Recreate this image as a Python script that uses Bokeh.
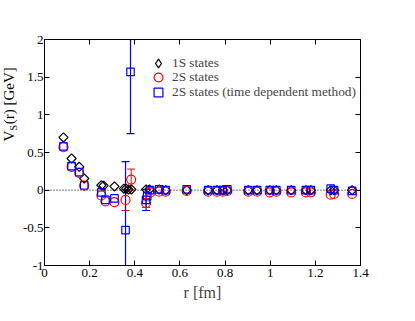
import numpy as np
from bokeh.plotting import figure
from bokeh.layouts import row
from bokeh.models import (FixedTicker, LinearAxis, Span, Label, ColumnDataSource,
                          CustomJSTickFormatter, Legend, LegendItem, Range1d)
from bokeh.embed import file_html
from bokeh.resources import INLINE

# ---------------- data ----------------
r_1s = [0.084, 0.12, 0.154, 0.176, 0.252, 0.262, 0.31, 0.352, 0.362, 0.372, 0.385,
        0.45, 0.465, 0.508, 0.537, 0.63, 0.725, 0.764, 0.79, 0.81, 0.903, 0.942,
        0.998, 1.027, 1.093, 1.158, 1.18, 1.268, 1.283, 1.363]
v_1s = [0.70, 0.42, 0.31, 0.155, 0.065, 0.06, 0.05, 0.02, 0.02, 0.01, 0.01,
        0.01, 0.01, 0.01, 0.0, 0.0, 0.0, 0.0, 0.0, 0.0, 0.0, 0.0,
        0.0, 0.0, 0.0, 0.0, 0.0, 0.0, 0.0, 0.0]

r_2s = [0.084, 0.12, 0.154, 0.176, 0.252, 0.27, 0.31, 0.359, 0.384, 0.45, 0.47,
        0.508, 0.537, 0.63, 0.725, 0.764, 0.79, 0.81, 0.903, 0.942, 0.998, 1.027,
        1.093, 1.158, 1.18, 1.268, 1.283, 1.363]
v_2s = [0.57, 0.31, 0.23, 0.06, -0.07, -0.15, -0.16, -0.13, 0.14, -0.17, -0.03,
        -0.02, -0.02, -0.01, -0.02, -0.02, -0.02, -0.01, -0.02, -0.02, -0.03, -0.02,
        -0.03, -0.03, -0.03, -0.06, -0.05, -0.05]
r_2s_err = [0.359, 0.384, 0.45]
lo_2s_err = [-0.27, 0.0, -0.23]
hi_2s_err = [0.01, 0.28, -0.11]

r_td = [0.084, 0.12, 0.154, 0.176, 0.252, 0.27, 0.31, 0.359, 0.381, 0.45, 0.455,
        0.467, 0.508, 0.537, 0.63, 0.725, 0.764, 0.79, 0.81, 0.903, 0.942, 0.998,
        1.027, 1.093, 1.158, 1.18, 1.268, 1.283, 1.363]
v_td = [0.58, 0.32, 0.24, 0.065, -0.03, -0.13, -0.11, -0.53, 1.57, -0.13, -0.08,
        0.0, 0.01, 0.0, 0.01, 0.0, 0.0, 0.0, 0.01, 0.0, 0.0, 0.0,
        0.0, 0.0, 0.0, 0.0, 0.02, 0.0, -0.01]
r_td_err = [0.359, 0.381, 0.45]
lo_td_err = [-1.44, 0.75, -0.27]
hi_td_err = [0.38, 2.39, 0.01]

x_ticks = [0, 0.2, 0.4, 0.6, 0.8, 1.0, 1.2, 1.4]
y_ticks = [-1, -0.5, 0, 0.5, 1, 1.5, 2]
legend_labels = ["1S states", "2S states", "2S states (time dependent method)"]

FONT = "Liberation Serif"
LABEL_W = 19

p = figure(width=399 - LABEL_W, height=305, output_backend="svg", toolbar_location=None,
           x_range=Range1d(0, 1.4), y_range=Range1d(-1, 2),
           min_border_left=41 - LABEL_W, min_border_right=39, min_border_top=39,
           min_border_bottom=40,
           background_fill_color="white", border_fill_color="white")
p.outline_line_color = "black"
p.outline_line_width = 1
p.xgrid.visible = False
p.ygrid.visible = False

fmt = CustomJSTickFormatter(code="var s = tick.toFixed(1); return s.replace(/\\.0$/, '');")

def style_axis(ax, ticks, show_labels):
    ax.ticker = FixedTicker(ticks=ticks)
    ax.formatter = fmt
    ax.major_tick_in = 5
    ax.major_tick_out = 0
    ax.minor_tick_line_color = None
    ax.axis_line_color = "black"
    ax.major_tick_line_color = "black"
    ax.major_label_text_font = FONT
    ax.major_label_text_font_size = "13px"
    ax.major_label_text_color = "black" if show_labels else None

style_axis(p.xaxis[0], x_ticks, True)
style_axis(p.yaxis[0], y_ticks, True)
p.xaxis[0].major_label_standoff = 3
p.yaxis[0].major_label_standoff = 1
p.xaxis[0].axis_label = "r [fm]"
p.xaxis[0].axis_label_text_font = FONT
p.xaxis[0].axis_label_text_font_size = "16px"
p.xaxis[0].axis_label_text_font_style = "normal"
p.xaxis[0].axis_label_standoff = 4

top = LinearAxis()
style_axis(top, x_ticks, False)
p.add_layout(top, "above")
right = LinearAxis()
style_axis(right, y_ticks, False)
p.add_layout(right, "right")

p.add_layout(Span(location=0, dimension="width", line_color="black",
                  line_width=1, line_dash="1 2"))

# error bars
p.segment(x0=r_2s_err, y0=lo_2s_err, x1=r_2s_err, y1=hi_2s_err, line_color="red", line_width=1)
p.dash(x=r_2s_err + r_2s_err, y=lo_2s_err + hi_2s_err, size=8, line_color="red", line_width=1)
p.segment(x0=r_td_err, y0=lo_td_err, x1=r_td_err, y1=hi_td_err, line_color="blue", line_width=1.2)
p.dash(x=r_td_err + r_td_err, y=lo_td_err + hi_td_err, size=8, line_color="blue", line_width=1.2)

src_1s = ColumnDataSource(dict(r=r_1s, v=v_1s))
p.scatter("r", "v", source=src_1s, marker="square", angle=np.pi / 4, size=6.5,
          fill_color=None, line_color="black", line_width=1.2)
# legend-only diamond glyph (size 0 in the plot; the legend sizes its own glyph)
g1 = p.scatter("r", "v", source=src_1s, marker="diamond", size=0,
               fill_color=None, line_color="black", line_width=1.2)
g2 = p.scatter(r_2s, v_2s, marker="circle", size=9,
               fill_color=None, line_color="red", line_width=1.2)
g3 = p.scatter(r_td, v_td, marker="square", size=7.5,
               fill_color=None, line_color="blue", line_width=1.2)

for i, (g, lab) in enumerate(zip([g1, g2, g3], legend_labels)):
    leg = Legend(items=[LegendItem(label=lab, renderers=[g])],
                 location=(103, 191 - 14.4 * i), padding=0, margin=0, spacing=0,
                 glyph_width=22, glyph_height=22, label_height=22, label_standoff=3,
                 label_text_font=FONT, label_text_font_size="13.3px",
                 border_line_color=None, background_fill_color=None,
                 background_fill_alpha=0)
    p.add_layout(leg, "center")

# narrow side figure that carries the y-axis title (with subscript)
lab_fig = figure(width=LABEL_W, height=305, output_backend="svg", toolbar_location=None,
                 x_axis_type=None, y_axis_type=None, x_range=Range1d(0, 1), y_range=Range1d(0, 1),
                 min_border=0, min_border_left=0, min_border_right=0,
                 min_border_top=0, min_border_bottom=0,
                 background_fill_color="white", border_fill_color="white")
lab_fig.outline_line_color = None
lab_fig.xgrid.visible = False
lab_fig.ygrid.visible = False

def ylab(x, y, txt, size):
    lab_fig.add_layout(Label(x=x, y=y, x_units="screen", y_units="screen", text=txt,
                             angle=np.pi / 2, text_align="center", text_baseline="middle",
                             text_font=FONT, text_font_size=size, text_color="black"))

ylab(8.5, 129.4, "V", "15px")
ylab(13.1, 137.9, "S", "10px")
ylab(8.5, 169.7, "(r) [GeV]", "15px")

layout = row(lab_fig, p, spacing=0)
open("out.html", "w").write(file_html(layout, INLINE))
